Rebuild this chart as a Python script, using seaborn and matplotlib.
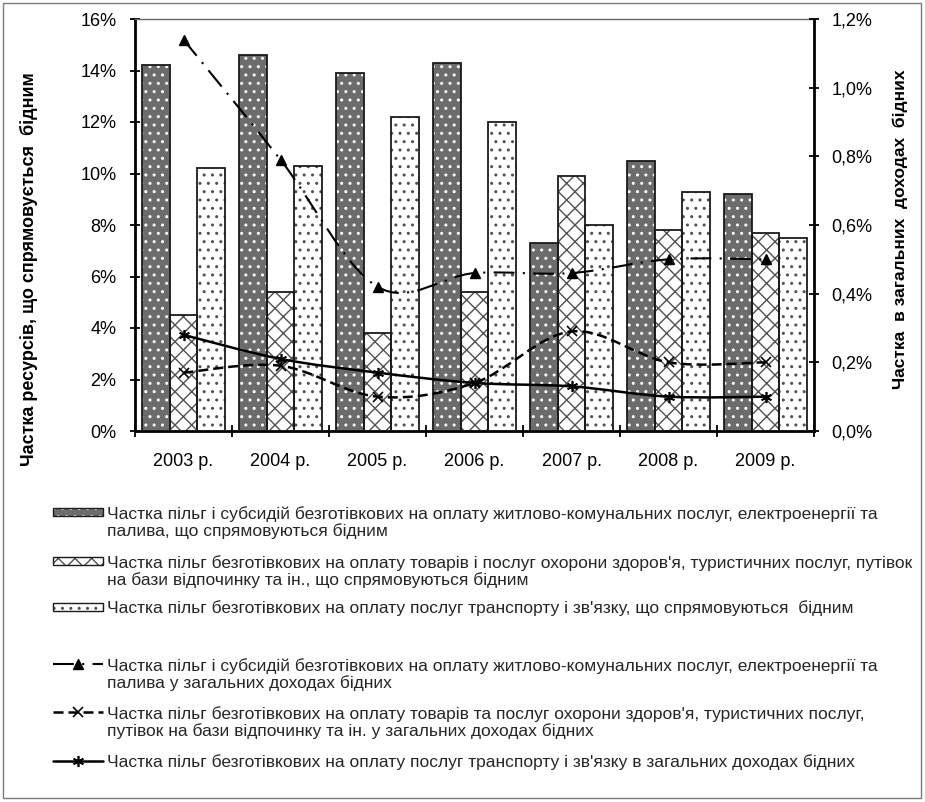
import numpy as np
import pandas as pd
import matplotlib
matplotlib.use("Agg")
import matplotlib.pyplot as plt
import seaborn as sns
from matplotlib.patches import Rectangle, PathPatch
from matplotlib.path import Path
from matplotlib.lines import Line2D
from matplotlib.ticker import FuncFormatter

# --- data ---
years = ['2003 р.', '2004 р.', '2005 р.', '2006 р.', '2007 р.', '2008 р.', '2009 р.']

# bars, left axis: share of resources directed to the poor, %
housing_share = [14.2, 14.6, 13.9, 14.3, 7.3, 10.5, 9.2]
health_share = [4.5, 5.4, 3.8, 5.4, 9.9, 7.8, 7.7]
transport_share = [10.2, 10.3, 12.2, 12.0, 8.0, 9.3, 7.5]

# lines, right axis: share in total income of the poor, %
housing_income = [1.14, 0.79, 0.42, 0.46, 0.46, 0.50, 0.50]
health_income = [0.17, 0.19, 0.10, 0.14, 0.29, 0.20, 0.20]
transport_income = [0.28, 0.21, 0.17, 0.14, 0.13, 0.10, 0.10]

bar_labels = [
    "Частка пільг і субсидій безготівкових на оплату житлово-комунальних послуг, електроенергії та\n"
    "палива, що спрямовуються бідним",
    "Частка пільг безготівкових на оплату товарів і послуг охорони здоров'я, туристичних послуг, путівок\n"
    "на бази відпочинку та ін., що спрямовуються бідним",
    "Частка пільг безготівкових на оплату послуг транспорту і зв'язку, що спрямовуються  бідним",
]
line_labels = [
    "Частка пільг і субсидій безготівкових на оплату житлово-комунальних послуг, електроенергії та\n"
    "палива у загальних доходах бідних",
    "Частка пільг безготівкових на оплату товарів та послуг охорони здоров'я, туристичних послуг,\n"
    "путівок на бази відпочинку та ін. у загальних доходах бідних",
    "Частка пільг безготівкових на оплату послуг транспорту і зв'язку в загальних доходах бідних",
]

# --- styles ---
bar_styles = [
    dict(face='#6c6c6c', hatch='..', hcolor='white'),
    dict(face='white', hatch='xx', hcolor='#505050'),
    dict(face='white', hatch='..', hcolor='#505050'),
]
line_styles = [
    dict(ls=(0, (10, 4, 1, 4)), lw=1.5, marker='^', ms=7, mew=1),
    dict(ls=(0, (4, 2)), lw=1.8, marker='x', ms=7, mew=1.2),
    dict(ls='-', lw=1.8, marker=(6, 2, 0), ms=8, mew=1.2),
]


def smooth_path(xs, ys):
    """Bezier path through the points (Excel-like smoothed line)."""
    pts = list(zip(xs, ys))
    verts = [pts[0]]
    codes = [Path.MOVETO]
    n = len(pts)
    for i in range(n - 1):
        p0 = pts[i - 1] if i > 0 else pts[i]
        p1, p2 = pts[i], pts[i + 1]
        p3 = pts[i + 2] if i + 2 < n else pts[i + 1]
        c1 = (p1[0] + (p2[0] - p0[0]) / 6, p1[1] + (p2[1] - p0[1]) / 6)
        c2 = (p2[0] - (p3[0] - p1[0]) / 6, p2[1] - (p3[1] - p1[1]) / 6)
        verts += [c1, c2, p2]
        codes += [Path.CURVE4] * 3
    return Path(verts, codes)


sns.set_theme(style='white')
plt.rcParams['font.family'] = ['Liberation Sans', 'DejaVu Sans']
plt.rcParams['hatch.linewidth'] = 1.0

W, H = 925, 802
fig = plt.figure(figsize=(W / 100, H / 100), dpi=100)
ax = fig.add_axes([135 / W, 1 - 431 / H, 679 / W, 412 / H])

series_names = ['housing', 'health', 'transport']
df = pd.DataFrame({
    'year': years * 3,
    'series': np.repeat(series_names, len(years)),
    'value': housing_share + health_share + transport_share,
})
sns.barplot(data=df, x='year', y='value', hue='series', hue_order=series_names,
            width=0.85, palette=['#6c6c6c', 'white', 'white'], saturation=1,
            legend=False, ax=ax, zorder=2)

for cont, st in zip(ax.containers, bar_styles):
    for bar in cont:
        bar.set_facecolor(st['face'])
        bar.set_hatch(st['hatch'])
        bar.set_edgecolor(st['hcolor'])
        bar.set_linewidth(0)
        ax.add_patch(Rectangle(bar.get_xy(), bar.get_width(), bar.get_height(),
                               fill=False, edgecolor='#1a1a1a', lw=1.3, zorder=3))

ax.set_xlim(-0.5, len(years) - 0.5)
ax.set_ylim(0, 16)
ax.set_yticks(np.arange(0, 17, 2))
ax.yaxis.set_major_formatter(FuncFormatter(lambda v, _: f"{v:.0f}%"))
ax.set_xticks(np.arange(-0.5, len(years), 1))
ax.set_xticklabels([])
ax.set_xticks(range(len(years)), minor=True)
ax.set_xticklabels(years, minor=True)
ax.tick_params(axis='x', which='major', direction='inout', length=8, width=1.3,
               color='black', bottom=True)
ax.tick_params(axis='x', which='minor', length=0, pad=16, labelsize=13, colors='black')
ax.tick_params(axis='y', direction='inout', length=7, width=1.3, pad=10,
               labelsize=13, left=True, colors='black')
ax.set_xlabel('')
ax.set_ylabel("Частка ресурсів, що спрямовується  бідним", fontsize=13,
              fontweight='bold', color='black')
ax.yaxis.set_label_coords(-0.143, 0.393)
for side in ['left', 'bottom']:
    ax.spines[side].set_color('black')
    ax.spines[side].set_linewidth(2)
ax.spines['top'].set_color('#666666')
ax.spines['top'].set_linewidth(1)
ax.spines['right'].set_visible(False)
ax.grid(False)

# --- lines on the secondary axis ---
ax2 = ax.twinx()
ax2.set_ylim(0, 1.2)
x_pos = np.arange(len(years))
for vals, st in zip([housing_income, health_income, transport_income], line_styles):
    ax2.add_patch(PathPatch(smooth_path(x_pos, vals), fill=False, edgecolor='black',
                            lw=st['lw'], linestyle=st['ls'], zorder=4,
                            capstyle='butt'))
    ax2.plot(x_pos, vals, linestyle='none', marker=st['marker'], ms=st['ms'],
             mew=st['mew'], color='black', zorder=5)
ax2.set_xlim(-0.5, len(years) - 0.5)
ax2.set_yticks(np.arange(0, 1.21, 0.2))
ax2.yaxis.set_major_formatter(FuncFormatter(lambda v, _: f"{v:.1f}%".replace('.', ',')))
ax2.tick_params(axis='y', direction='inout', length=7, width=1.3, pad=9,
                labelsize=13, right=True, colors='black')
ax2.set_ylabel("Частка  в загальних  доходах  бідних", fontsize=12.5,
               fontweight='bold', color='black')
ax2.yaxis.set_label_coords(1.116, 0.49)
for side in ['left', 'top', 'bottom']:
    ax2.spines[side].set_visible(False)
ax2.spines['right'].set_color('black')
ax2.spines['right'].set_linewidth(2)
ax2.grid(False)

# --- legend drawn in pixel space below the plot ---
lax = fig.add_axes([0, 0, 1, 1], zorder=-1)
lax.set_xlim(0, W)
lax.set_ylim(H, 0)
lax.axis('off')
lax.add_patch(Rectangle((3, 3), W - 7, H - 7, fill=False, edgecolor='#7a7a7a', lw=1))

hx, hw, tx = 53, 50, 107
line_gap = 19
bar_rows = [513, 562, 608]
line_rows = [665, 713, 762]
leg_font = 12.5


def legend_text(y0, lab):
    n = lab.count('\n') + 1
    lax.text(tx, y0 + (n - 1) * line_gap / 2, lab, fontsize=leg_font, va='center',
             linespacing=1.05)


for y0, lab, st in zip(bar_rows, bar_labels, bar_styles):
    lax.add_patch(Rectangle((hx, y0 - 5), hw, 8, facecolor=st['face'], hatch=st['hatch'],
                            edgecolor=st['hcolor'], lw=0))
    lax.add_patch(Rectangle((hx, y0 - 5), hw, 8, fill=False, edgecolor='#1a1a1a', lw=1))
    legend_text(y0, lab)

for y0, lab, st in zip(line_rows, line_labels, line_styles):
    lax.add_line(Line2D([hx, hx + hw], [y0 - 1, y0 - 1], color='black', lw=st['lw'],
                        linestyle=st['ls']))
    lax.add_line(Line2D([hx + hw / 2], [y0 - 1], color='black', linestyle='none',
                        marker=st['marker'], ms=st['ms'], mew=st['mew']))
    legend_text(y0, lab)

fig.savefig('out.png', dpi=100)
